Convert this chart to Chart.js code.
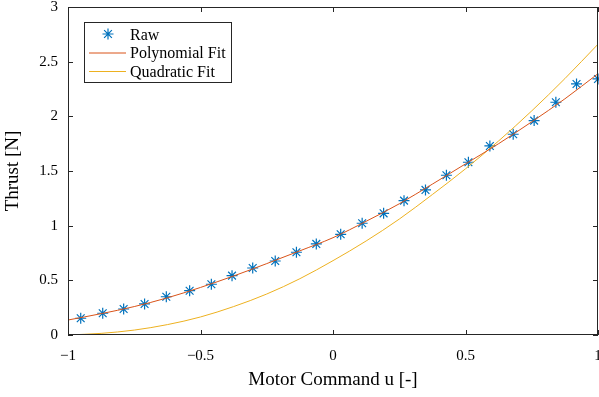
<!DOCTYPE html>
<html>
<head>
<meta charset="utf-8">
<script src="https://cdn.jsdelivr.net/npm/chart.js@4.4.1/dist/chart.umd.min.js"></script>
<style>
  html, body { margin: 0; padding: 0; background: #fff; }
  #wrap { width: 599px; height: 397px; position: relative; }
</style>
</head>
<body>
<div id="wrap"><canvas id="thrustChart"></canvas></div>
<script>
// Raw measurements
const rawU = [-0.952, -0.869, -0.790, -0.711, -0.629, -0.541, -0.459, -0.381, -0.303, -0.218,
  -0.138, -0.063, 0.029, 0.110, 0.191, 0.268, 0.349, 0.428, 0.511, 0.592,
  0.680, 0.759, 0.841, 0.919, 1.000];
const rawThrust = [0.153, 0.199, 0.238, 0.284, 0.350, 0.405, 0.464, 0.543, 0.613, 0.677,
  0.757, 0.833, 0.921, 1.022, 1.113, 1.229, 1.327, 1.461, 1.580, 1.729,
  1.836, 1.961, 2.129, 2.296, 2.342];

// Fit curves
const fitU = [-1, -0.875, -0.75, -0.625, -0.5, -0.375, -0.25, -0.125, 0, 0.125, 0.25, 0.375, 0.5, 0.625, 0.75, 0.875, 1];
const polyFit = [0.137, 0.195, 0.26, 0.34, 0.435, 0.54, 0.653, 0.77, 0.89, 1.04, 1.20, 1.38, 1.565, 1.75, 1.95, 2.16, 2.39];
const quadFit = [0.0, 0.015, 0.045, 0.095, 0.165, 0.26, 0.375, 0.515, 0.68, 0.86, 1.06, 1.285, 1.52, 1.775, 2.05, 2.345, 2.66];

const xTicks = [-1, -0.5, 0, 0.5, 1];
const yTicks = [0, 0.5, 1, 1.5, 2, 2.5, 3];

const BLUE = '#0072BD';
const RED = '#D95319';
const YELLOW = '#EDB120';
const AXIS = '#262626';
const FONT = "'Liberation Serif', 'DejaVu Serif', serif";

function fmt(v) {
  return String(v).replace('-', '\u2212');
}

// box + inward ticks like matlab
const boxPlugin = {
  id: 'boxTicks',
  afterDatasetsDraw(chart) {
    const ctx = chart.ctx;
    const a = chart.chartArea;
    const xs = chart.scales.x;
    const ys = chart.scales.y;
    const len = 5;
    ctx.save();
    ctx.strokeStyle = AXIS;
    ctx.lineWidth = 1;
    ctx.strokeRect(Math.round(a.left) + 0.5, Math.round(a.top) + 0.5,
      Math.round(a.right - a.left) - 1, Math.round(a.bottom - a.top) - 1);
    ctx.beginPath();
    xTicks.forEach(v => {
      const px = Math.round(xs.getPixelForValue(v)) + 0.5;
      ctx.moveTo(px, a.bottom); ctx.lineTo(px, a.bottom - len);
      ctx.moveTo(px, a.top); ctx.lineTo(px, a.top + len);
    });
    yTicks.forEach(v => {
      const py = Math.round(ys.getPixelForValue(v)) + 0.5;
      ctx.moveTo(a.left, py); ctx.lineTo(a.left + len, py);
      ctx.moveTo(a.right, py); ctx.lineTo(a.right - len, py);
    });
    ctx.stroke();
    ctx.restore();
  }
};

// legend box in upper left of the axes
const legendPlugin = {
  id: 'innerLegend',
  afterDraw(chart) {
    const ctx = chart.ctx;
    const a = chart.chartArea;
    const bx = a.left + 16, by = a.top + 15, bw = 147, bh = 60;
    ctx.save();
    ctx.fillStyle = '#fff';
    ctx.fillRect(bx, by, bw, bh);
    ctx.strokeStyle = AXIS;
    ctx.lineWidth = 1;
    ctx.strokeRect(bx + 0.5, by + 0.5, bw, bh);
    const items = chart.data.datasets;
    ctx.font = '16px ' + FONT;
    ctx.textBaseline = 'middle';
    items.forEach((ds, i) => {
      const cy = by + 12 + i * 18.5;
      if (ds.showLine === false) {
        drawStar(ctx, bx + 24, cy, 5.5, ds.borderColor);
      } else {
        ctx.strokeStyle = ds.borderColor;
        ctx.lineWidth = 1;
        ctx.beginPath();
        ctx.moveTo(bx + 5, cy + 0.5);
        ctx.lineTo(bx + 42, cy + 0.5);
        ctx.stroke();
      }
      ctx.fillStyle = '#000';
      ctx.fillText(ds.label, bx + 46, cy + 1.5);
    });
    ctx.restore();
  }
};

function drawStar(ctx, x, y, r, color) {
  ctx.save();
  ctx.strokeStyle = color;
  ctx.lineWidth = 1.2;
  ctx.beginPath();
  for (let k = 0; k < 4; k++) {
    const ang = k * Math.PI / 4;
    ctx.moveTo(x - r * Math.cos(ang), y - r * Math.sin(ang));
    ctx.lineTo(x + r * Math.cos(ang), y + r * Math.sin(ang));
  }
  ctx.stroke();
  ctx.restore();
}

const chart = new Chart(document.getElementById('thrustChart'), {
  type: 'scatter',
  data: {
    datasets: [
      {
        label: 'Raw',
        data: rawU.map((u, i) => ({ x: u, y: rawThrust[i] })),
        showLine: false,
        pointStyle: 'star',
        pointRadius: 5.5,
        pointBorderWidth: 1.2,
        borderColor: BLUE,
        backgroundColor: BLUE,
        clip: false,
        order: 3
      },
      {
        label: 'Polynomial Fit',
        data: fitU.map((u, i) => ({ x: u, y: polyFit[i] })),
        showLine: true,
        pointRadius: 0,
        borderWidth: 1,
        borderColor: RED,
        cubicInterpolationMode: 'monotone',
        order: 1
      },
      {
        label: 'Quadratic Fit',
        data: fitU.map((u, i) => ({ x: u, y: quadFit[i] })),
        showLine: true,
        pointRadius: 0,
        borderWidth: 1,
        borderColor: YELLOW,
        cubicInterpolationMode: 'monotone',
        order: 2
      }
    ]
  },
  options: {
    responsive: true,
    maintainAspectRatio: false,
    animation: false,
    layout: { autoPadding: false, padding: { top: 7, right: 1, left: 0, bottom: 0 } },
    plugins: {
      legend: { display: false },
      tooltip: { enabled: false }
    },
    scales: {
      x: {
        type: 'linear',
        min: -1,
        max: 1,
        afterBuildTicks: s => { s.ticks = xTicks.map(v => ({ value: v })); },
        afterFit: s => { s.height = 62; s.paddingLeft = 0; s.paddingRight = 0; },
        grid: { display: false, drawTicks: false },
        border: { display: false },
        ticks: {
          color: '#000',
          padding: 12,
          maxRotation: 0,
          font: { family: FONT, size: 15 },
          callback: v => fmt(v)
        },
        title: {
          display: true,
          text: 'Motor Command u [-]',
          color: '#000',
          font: { family: FONT, size: 19 },
          padding: { top: 4, bottom: 6 }
        }
      },
      y: {
        type: 'linear',
        min: 0,
        max: 3,
        afterBuildTicks: s => { s.ticks = yTicks.map(v => ({ value: v })); },
        afterFit: s => { s.width = 68; s.paddingTop = 0; s.paddingBottom = 0; },
        grid: { display: false, drawTicks: false },
        border: { display: false },
        ticks: {
          color: '#000',
          padding: 10,
          font: { family: FONT, size: 15 },
          callback: v => fmt(v)
        },
        title: {
          display: true,
          text: 'Thrust [N]',
          color: '#000',
          font: { family: FONT, size: 19 },
          padding: { top: 2, bottom: 4 }
        }
      }
    }
  },
  plugins: [boxPlugin, legendPlugin]
});
</script>
</body>
</html>
